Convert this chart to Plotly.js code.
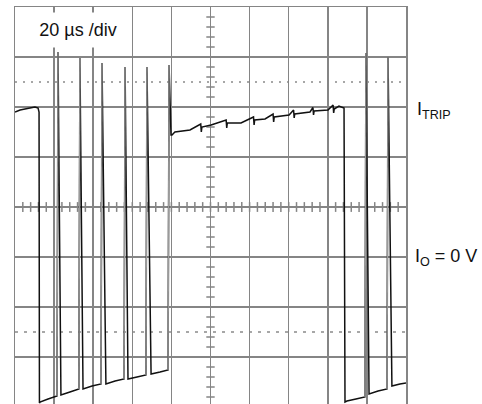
<!DOCTYPE html>
<html>
<head>
<meta charset="utf-8">
<script src="https://cdn.plot.ly/plotly-3.0.1.min.js"></script>
<style>html,body{margin:0;padding:0;background:#fff;}#chart{width:482px;height:404px;}</style>
</head>
<body>
<div id="chart"></div>
<script>
// Time in microseconds (20 us / div), amplitude in screen divisions
const tUs = [
  0, 2.6, 5.1, 7.7, 10.2, 11.8, 12.3,
  12.5, 12.8, 16.9, 21.5,
  22.0, 23.5, 28.1, 32.7,
  33.2, 34.8, 39.4, 44.0,
  44.5, 46.5, 51.2, 55.8,
  56.3, 57.8, 62.4, 67.0,
  67.5, 69.6, 74.2, 78.3,
  78.8, 79.8, 80.3, 81.8, 89.5, 95.0, 95.3, 95.6, 100.3, 108.0, 108.3, 108.6, 115.6,
  122.0, 122.3, 122.6, 127.9, 132.0, 132.3, 132.6, 140.2, 142.5, 142.8, 143.1,
  150.9, 152.4, 152.7, 153.0, 160.1, 162.7, 163.0, 163.3, 165.7, 168.3,
  168.8, 169.8, 174.4, 179.0,
  179.5, 181.1, 185.7, 190.3,
  190.8, 192.8, 196.9, 200
];
const vDiv = [
  1.90, 1.94, 1.96, 1.98, 2.00, 1.98, 1.90,
  -3.92, -3.90, -3.84, -3.78,
  3.10, -3.76, -3.70, -3.64,
  2.98, -3.64, -3.58, -3.54,
  2.88, -3.54, -3.48, -3.44,
  2.80, -3.44, -3.40, -3.36,
  2.80, -3.34, -3.30, -3.26,
  2.84, 1.44, 1.44, 1.50, 1.54, 1.66, 1.50, 1.60, 1.64, 1.74, 1.58, 1.68, 1.68,
  1.80, 1.64, 1.74, 1.76, 1.86, 1.70, 1.80, 1.84, 1.94, 1.78, 1.86,
  1.90, 1.99, 1.84, 1.92, 1.94, 2.04, 1.88, 1.96, 2.02, 1.98,
  -3.90, -3.88, -3.84, -3.80,
  3.08, -3.74, -3.68, -3.64,
  3.00, -3.58, -3.54, -3.52
];
const xRange = [0, 200];
const yRange = [-3.94, 4];
const dottedLevels = [2.5, -2.5];

const gridColor = '#858585';

// rising edges drawn in lighter grey over the main trace
const riseX = [], riseY = [];
for (let i = 1; i < tUs.length; i++) {
  if (vDiv[i - 1] < -3 && vDiv[i] > 2.5) {
    riseX.push(tUs[i - 1], tUs[i], null);
    riseY.push(vDiv[i - 1], vDiv[i], null);
  }
}

// graticule minor ticks on the centre lines
const mtX1 = [], mtY1 = [], mtX2 = [], mtY2 = [];
for (let y = -3.8; y <= 3.81; y += 0.2) { mtX1.push(100); mtY1.push(+y.toFixed(2)); }
for (let x = 4; x < 200; x += 4) { mtX2.push(x); mtY2.push(0); }

const traces = [
  {x: mtX1, y: mtY1, mode: 'markers', hoverinfo: 'skip',
   marker: {symbol: 'line-ew', size: 6, line: {color: gridColor, width: 1.5}}},
  {x: mtX2, y: mtY2, mode: 'markers', hoverinfo: 'skip',
   marker: {symbol: 'line-ns', size: 7, line: {color: gridColor, width: 1.5}}},
  {x: tUs, y: vDiv, mode: 'lines', line: {color: '#111', width: 1.5}, hoverinfo: 'skip'},
  {x: riseX, y: riseY, mode: 'lines', line: {color: '#9a9a9a', width: 1.3}, hoverinfo: 'skip', connectgaps: false}
];

const shapes = dottedLevels.map((lv, i) => ({
  type: 'line', xref: 'x', yref: 'y', x0: xRange[0], x1: xRange[1], y0: lv, y1: lv,
  line: {color: '#8a8a8a', width: 1.5, dash: i === 0 ? '2px,6px' : '3px,6px'}, layer: 'below'
}));

const layout = {
  width: 482, height: 404,
  margin: {l: 15, r: 76, t: 7, b: 0},
  paper_bgcolor: '#fff', plot_bgcolor: '#fff',
  showlegend: false,
  xaxis: {range: xRange, dtick: 20, tick0: 0, showgrid: true, gridcolor: gridColor, gridwidth: 1.5,
          showline: true, mirror: true, linecolor: gridColor, linewidth: 1.5,
          showticklabels: false, ticks: '', zeroline: false, fixedrange: true},
  yaxis: {range: yRange, dtick: 1, tick0: 0, showgrid: true, gridcolor: gridColor, gridwidth: 1.5,
          showline: true, mirror: true, linecolor: gridColor, linewidth: 1.5,
          showticklabels: false, ticks: '', zeroline: false, fixedrange: true},
  shapes: shapes,
  annotations: [
    {text: '20 µs /div', xref: 'x', yref: 'y', x: 32.2, y: 3.54, showarrow: false,
     bgcolor: '#fff', width: 100, height: 32,
     font: {family: 'Liberation Sans, Arial, sans-serif', size: 18, color: '#111'}},
    {text: 'I<sub>TRIP</sub>', xref: 'paper', yref: 'y', x: 1.023, y: 1.94, xanchor: 'left', yanchor: 'middle',
     showarrow: false, font: {family: 'Liberation Sans, Arial, sans-serif', size: 18, color: '#111'}},
    {text: 'I<sub>O</sub> = 0 V', xref: 'paper', yref: 'y', x: 1.018, y: -1.0, xanchor: 'left', yanchor: 'middle',
     showarrow: false, font: {family: 'Liberation Sans, Arial, sans-serif', size: 18, color: '#111'}}
  ]
};

Plotly.newPlot('chart', traces, layout, {displayModeBar: false, staticPlot: true});
</script>
</body>
</html>
